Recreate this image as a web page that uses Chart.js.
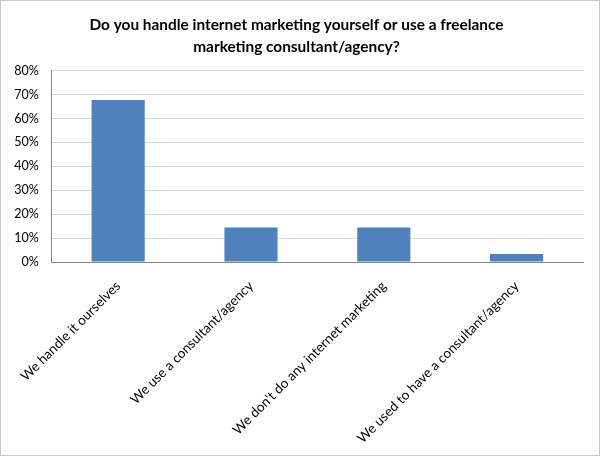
<!DOCTYPE html>
<html>
<head>
<meta charset="utf-8">
<script src="https://cdn.jsdelivr.net/npm/chart.js@4/dist/chart.umd.min.js"></script>
<style>
html,body{margin:0;padding:0;background:#fff;}
#wrap{width:600px;height:456px;box-sizing:border-box;border:1px solid #c8c8c8;position:relative;}
canvas{display:block;}
</style>
</head>
<body>
<div id="wrap"><canvas id="c"></canvas></div>
<script>
const titleLines = ["Do you handle internet marketing yourself or use a freelance", "marketing consultant/agency?"];
const categories = ["We handle it ourselves", "We use a consultant/agency", "We don't do any internet marketing", "We used to have a consultant/agency"];
const values = [67.7, 14.4, 14.4, 3.3];
const yTicks = [0, 10, 20, 30, 40, 50, 60, 70, 80];

new Chart(document.getElementById('c'), {
  type: 'bar',
  data: {
    labels: categories,
    datasets: [{
      data: values,
      backgroundColor: '#4f81bd',
      borderWidth: 0,
      barPercentage: 0.4,
      categoryPercentage: 1.0
    }]
  },
  options: {
    responsive: true,
    maintainAspectRatio: false,
    animation: false,
    devicePixelRatio: 1,
    layout: { padding: { left: 9, right: 16, top: 8, bottom: 4 } },
    plugins: {
      legend: { display: false },
      tooltip: { enabled: false },
      title: {
        display: true,
        text: titleLines,
        color: '#000',
        font: { family: 'Lato', size: 15.4, weight: 'bold', lineHeight: 1.45 },
        padding: { top: 5, bottom: 12 }
      }
    },
    scales: {
      x: {
        afterFit: (axis) => { axis.height = 189; },
        grid: { display: false, drawTicks: false },
        border: { color: '#868686', width: 1 },
        ticks: {
          color: '#000',
          font: { family: 'Lato', size: 13.5 },
          minRotation: 45,
          maxRotation: 45,
          padding: 16
        }
      },
      y: {
        min: 0,
        max: 80,
        afterFit: (axis) => { axis.width = 40; },
        afterBuildTicks: (axis) => { axis.ticks = yTicks.map(v => ({ value: v })); },
        grid: { color: '#d9d9d9', drawTicks: false, lineWidth: 1 },
        border: { color: '#868686', width: 1 },
        ticks: {
          color: '#000',
          font: { family: 'Lato', size: 12.5 },
          padding: 13,
          callback: (v) => v + '%'
        }
      }
    }
  }
});
</script>
</body>
</html>
